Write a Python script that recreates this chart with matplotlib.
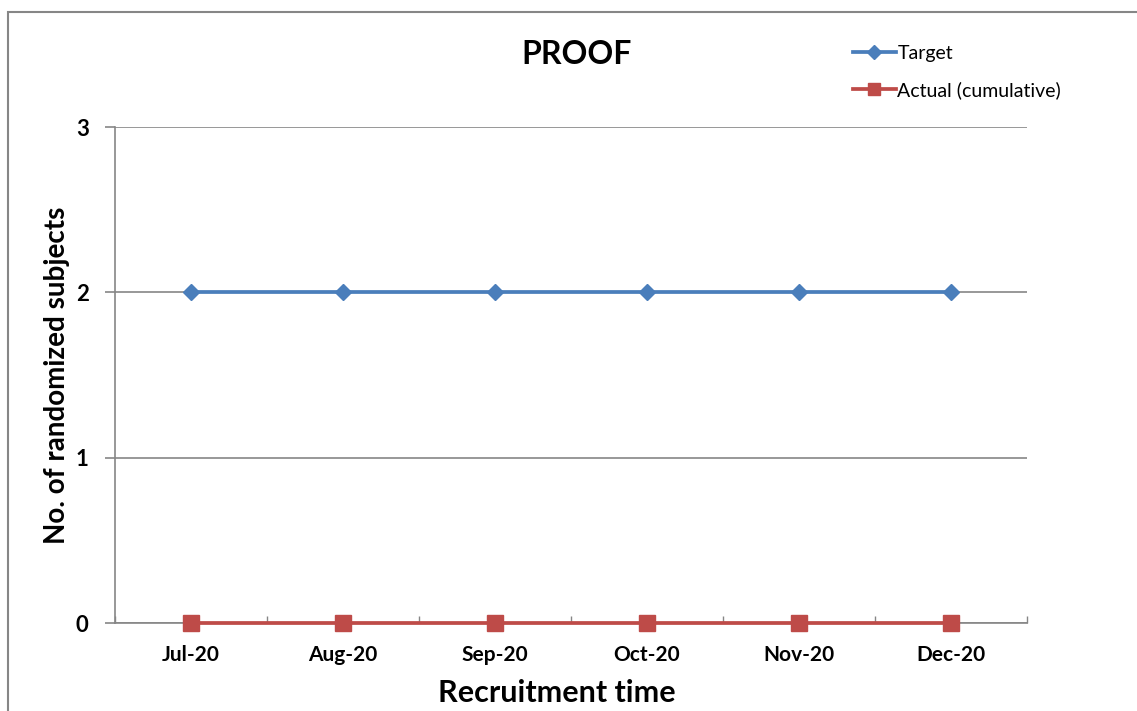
import matplotlib.pyplot as plt
from matplotlib.lines import Line2D
from matplotlib.patches import Rectangle

months = ['Jul-20', 'Aug-20', 'Sep-20', 'Oct-20', 'Nov-20', 'Dec-20']
target = [2, 2, 2, 2, 2, 2]
actual = [0, 0, 0, 0, 0, 0]

plt.rcParams['font.family'] = ['Lato', 'DejaVu Sans']

W, H = 1137, 711
fig = plt.figure(figsize=(W / 100, H / 100), dpi=100)

# outer chart border (cropped at right and bottom)
fig.patches.append(Rectangle((8 / W, -0.1), 1.2, 1 - 12 / H + 0.1, transform=fig.transFigure,
                             fill=False, edgecolor='#868686', linewidth=1.5))

ax = fig.add_axes([115 / W, 1 - 623 / H, (1027 - 115) / W, (623 - 127) / H])
x = list(range(len(months)))
ax.plot(x, target, color='#4a7ebb', linewidth=2.7, marker='D', markersize=8, label='Target')
ax.plot(x, actual, color='#be4b48', linewidth=2.7, marker='s', markersize=12,
        label='Actual (cumulative)', clip_on=False, zorder=5)

ax.set_xlim(-0.5, 5.5)
ax.set_ylim(0, 3)
ax.set_yticks([0, 1, 2, 3])
ax.set_xticks(x)
ax.set_xticklabels(months, fontsize=15, fontweight='bold')
ax.set_yticklabels(['0', '1', '2', '3'], fontsize=16, fontweight='bold')
ax.tick_params(axis='x', length=0, pad=16)
ax.tick_params(axis='y', length=7, width=1.2, color='#868686', pad=12)
# category boundary ticks pointing up
ax.set_xticks([i - 0.5 for i in range(len(months) + 1)], minor=True)
ax.tick_params(axis='x', which='minor', direction='in', length=5, color='#868686', width=1)

ax.grid(axis='y', color='#868686', linewidth=1.2)
ax.set_axisbelow(True)
for side in ['top', 'right']:
    ax.spines[side].set_visible(False)
for side in ['left', 'bottom']:
    ax.spines[side].set_color('#868686')
    ax.spines[side].set_linewidth(1.2)

ax.set_xlabel('Recruitment time', fontsize=22, fontweight='bold')
ax.set_ylabel('No. of randomized subjects', fontsize=20, fontweight='bold')
ax.xaxis.set_label_coords((557 - 115) / (1027 - 115), -(693 - 623) / (623 - 127),
                          transform=ax.transAxes)
ax.yaxis.set_label_coords(-(115 - 57) / (1027 - 115), 0.5, transform=ax.transAxes)
ax.xaxis.label.set_va('center')
ax.yaxis.label.set_va('center')
fig.text(577 / W, 1 - 55 / H, 'PROOF', fontsize=23, fontweight='bold', ha='center', va='center')

handles = [Line2D([], [], color='#4a7ebb', linewidth=2.7, marker='D', markersize=7),
           Line2D([], [], color='#be4b48', linewidth=2.7, marker='s', markersize=9)]
fig.legend(handles, ['Target', 'Actual (cumulative)'], loc='upper left',
           bbox_to_anchor=(843 / W, 1 - 35 / H), frameon=False, fontsize=14,
           handlelength=2.2, handletextpad=0.1, labelspacing=1.0, borderpad=0)

fig.savefig('out.png', dpi=100)
